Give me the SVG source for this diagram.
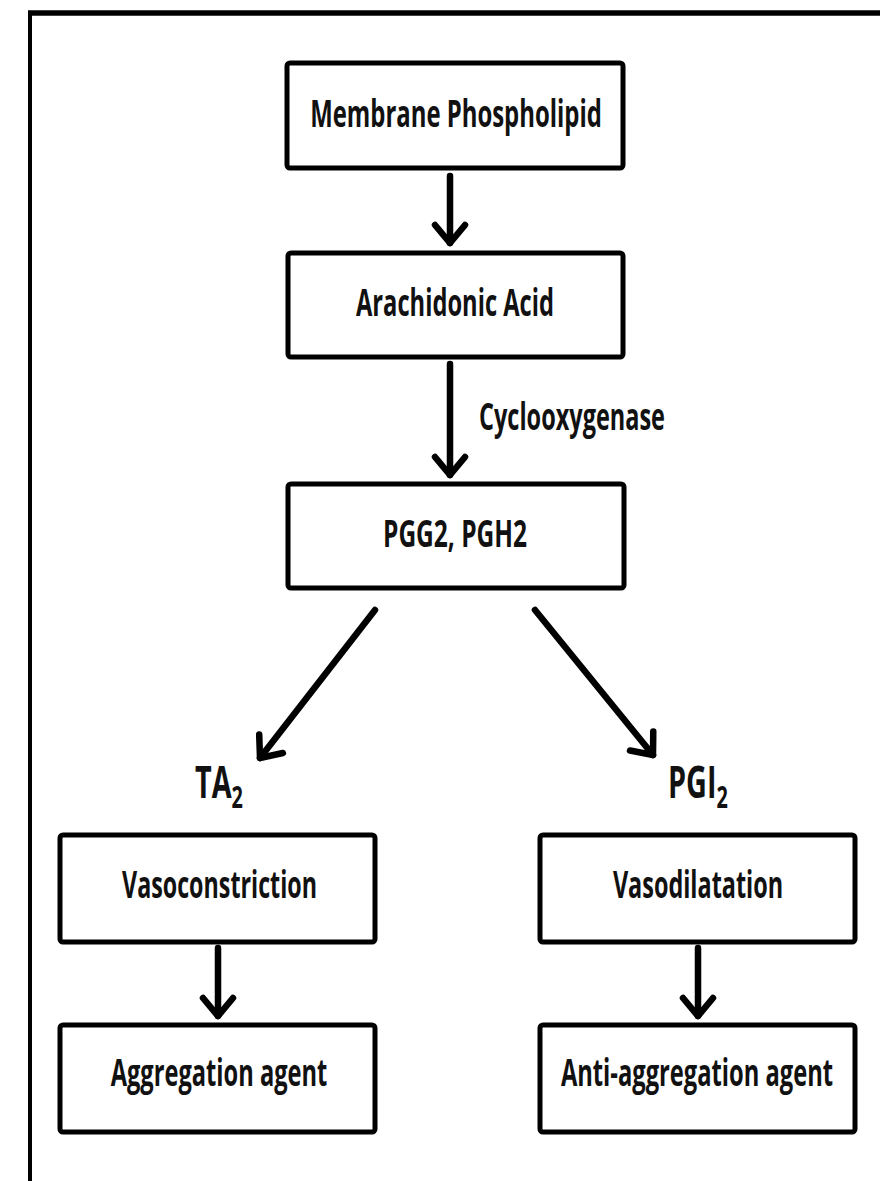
<svg xmlns="http://www.w3.org/2000/svg" width="880" height="1181" viewBox="0 0 880 1181">
  <style>
    .box { fill: #fff; stroke: #000; stroke-width: 5; }
    .lbl { font-family: "Open Sans", "Liberation Sans", sans-serif; font-weight: 700; font-size: 37px; fill: #111; text-anchor: middle; }
    .big { font-family: "Open Sans", "Liberation Sans", sans-serif; font-weight: 700; font-size: 45px; fill: #111; }
    .edge { fill: none; stroke: #000; stroke-width: 6.5; stroke-linecap: round; }
    .frame { stroke: #000; fill: none; }
  </style>
  <defs>
    <marker id="chev" markerUnits="userSpaceOnUse" markerWidth="40" markerHeight="40" refX="0" refY="0" orient="auto" overflow="visible">
      <path d="M-18,-15 L0,0 L-18,15" fill="none" stroke="#000" stroke-width="6.5" stroke-linecap="round" stroke-linejoin="round"/>
    </marker>
  </defs>

  <rect width="880" height="1181" fill="#fff"/>

  <!-- frame: heavy top rule and thin left rule -->
  <line class="frame" x1="28" y1="13" x2="880" y2="13" stroke-width="5.5"/>
  <line class="frame" x1="30" y1="11" x2="30" y2="1181" stroke-width="4"/>

  <!-- connectors -->
  <g id="connectors">
    <line class="edge" x1="450" y1="176" x2="450" y2="243" marker-end="url(#chev)"/>
    <line class="edge" x1="450" y1="364" x2="450" y2="475" marker-end="url(#chev)"/>
    <line class="edge" x1="375" y1="610" x2="260" y2="758" marker-end="url(#chev)"/>
    <line class="edge" x1="535" y1="610" x2="653" y2="755" marker-end="url(#chev)"/>
    <line class="edge" x1="218" y1="948" x2="218" y2="1016" marker-end="url(#chev)"/>
    <line class="edge" x1="698" y1="948" x2="698" y2="1016" marker-end="url(#chev)"/>
    <text class="lbl" transform="translate(572,430) scale(0.75,1)" font-size="34" textLength="248" lengthAdjust="spacingAndGlyphs">Cyclooxygenase</text>
  </g>

  <!-- labels are drawn condensed: 0.75 horizontal scale, width pinned by textLength -->
  <g id="membrane-phospholipid">
    <rect class="box" x="287" y="63" width="336" height="105" rx="3"/>
    <text class="lbl" transform="translate(456,127) scale(0.75,1)" textLength="389" lengthAdjust="spacingAndGlyphs">Membrane Phospholipid</text>
  </g>

  <g id="arachidonic-acid">
    <rect class="box" x="288" y="253" width="335" height="104" rx="3"/>
    <text class="lbl" transform="translate(455,316) scale(0.75,1)" textLength="264" lengthAdjust="spacingAndGlyphs">Arachidonic Acid</text>
  </g>

  <g id="pgg2-pgh2">
    <rect class="box" x="288" y="484" width="336" height="104" rx="3"/>
    <text class="lbl" transform="translate(455,547) scale(0.75,1)" textLength="192" lengthAdjust="spacingAndGlyphs">PGG2, PGH2</text>
  </g>

  <g id="ta2">
    <text class="big" transform="translate(195,798) scale(0.64,1)">TA<tspan dy="10" font-size="31">2</tspan></text>
  </g>

  <g id="pgi2">
    <text class="big" transform="translate(668,798) scale(0.64,1)">PGI<tspan dy="10" font-size="31">2</tspan></text>
  </g>

  <g id="vasoconstriction">
    <rect class="box" x="60" y="835" width="315" height="107" rx="3"/>
    <text class="lbl" transform="translate(219.5,898) scale(0.75,1)" textLength="260" lengthAdjust="spacingAndGlyphs">Vasoconstriction</text>
  </g>

  <g id="vasodilatation">
    <rect class="box" x="540" y="835" width="315" height="107" rx="3"/>
    <text class="lbl" transform="translate(698,898) scale(0.75,1)" textLength="227" lengthAdjust="spacingAndGlyphs">Vasodilatation</text>
  </g>

  <g id="aggregation-agent">
    <rect class="box" x="60" y="1025" width="315" height="107" rx="3"/>
    <text class="lbl" transform="translate(219,1086) scale(0.75,1)" textLength="289" lengthAdjust="spacingAndGlyphs">Aggregation agent</text>
  </g>

  <g id="anti-aggregation-agent">
    <rect class="box" x="540" y="1025" width="315" height="107" rx="3"/>
    <text class="lbl" transform="translate(697,1086) scale(0.75,1)" textLength="363" lengthAdjust="spacingAndGlyphs">Anti-aggregation agent</text>
  </g>
</svg>
